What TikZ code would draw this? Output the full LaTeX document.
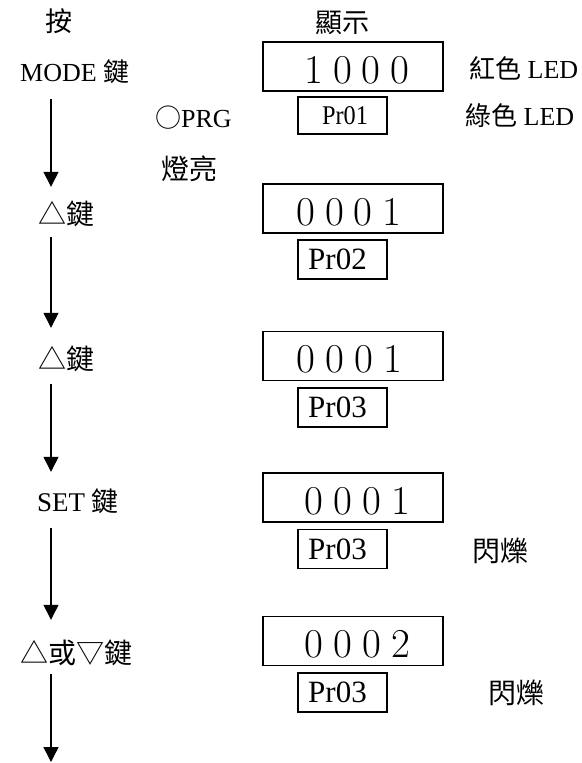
\documentclass[tikz,border=0pt]{standalone}
\usepackage{fontspec}
\usepackage{graphicx}
\setmainfont{Liberation Serif}
\newfontfamily\cjk{Noto Sans CJK TC}
\newfontfamily\digitfont{Latin Modern Roman}
\usetikzlibrary{arrows.meta}
\newcommand{\zhtext}[1]{{\cjk #1}}
\newcommand{\fsz}[1]{\fontsize{#1}{#1}\selectfont}
\newcommand{\dsp}{\hspace{10pt}}
\tikzset{
  lbl/.style={inner sep=0pt, anchor=base west},
  keylbl/.style={inner sep=0pt, anchor=base west, text height=20pt, text depth=6pt, font=\fsz{26}},
  dispbox/.style={draw, line width=1.3pt, minimum width=180pt, minimum height=49pt, inner sep=0pt, text height=33pt, text depth=0pt, font=\digitfont\fsz{41}},
  prbox/.style={draw, line width=1.3pt, minimum width=89pt, minimum height=39pt, inner sep=0pt, font=\fsz{31}},
  flow/.style={line width=1.4pt, -{Triangle[width=15pt,length=15pt]}},
}
\begin{document}
\begin{tikzpicture}[x=1pt,y=-1pt]
\fill[white] (0,0) rectangle (581,763);
\useasboundingbox (0,0) rectangle (581,763);
% headings
\node[lbl, font=\fsz{27}, anchor=base] (an) at (59,31) {\zhtext{按}};
\node[lbl, font=\fsz{27}, anchor=base] (xs) at (342,32) {\zhtext{顯示}};
% row 1
\node[keylbl] (modekey) at (20,81) {MODE \zhtext{鍵}};
\node[dispbox] (d1) at (353,66.5) {\hspace*{8pt}1\dsp0\dsp0\dsp0};
\node[lbl, font=\fsz{26}] (red) at (469,78) {\zhtext{紅色} LED};
\node[lbl, font=\fsz{26}] (prg) at (155,127) {\zhtext{○}PRG};
\node[prbox, minimum height=37pt, font=\fsz{27}] (p1) at (342.5,115.5) {\hspace*{5pt}\scalebox{0.9}[1]{Pr01}};
\node[lbl, font=\fsz{26}] (green) at (465,125) {\zhtext{綠色} LED};
\node[lbl, font=\fsz{28}] (lit) at (161,179) {\zhtext{燈亮}};
% row 2
\node[keylbl, font=\fsz{28}] (up1) at (38,224) {\zhtext{△鍵}};
\node[dispbox] (d2) at (353,208.5) {0\dsp0\dsp0\dsp1\hspace*{8pt}};
\node[prbox] (p2) at (342.5,259.5) {Pr02\hspace*{10pt}};
% row 3
\node[keylbl, font=\fsz{28}] (up2) at (38,369) {\zhtext{△鍵}};
\node[dispbox] (d3) at (353,356) {0\dsp0\dsp0\dsp1\hspace*{7pt}};
\node[prbox] (p3) at (342.5,407.5) {Pr03\hspace*{10pt}};
% row 4
\node[keylbl, font=\fsz{27}] (setkey) at (37,511) {SET \zhtext{鍵}};
\node[dispbox] (d4) at (353,497.5) {\hspace*{9pt}0\dsp0\dsp0\dsp1};
\node[prbox] (p4) at (342.5,549) {Pr03\hspace*{10pt}};
\node[lbl, font=\fsz{28}] (blink1) at (472,561) {\zhtext{閃爍}};
% row 5
\node[keylbl, font=\fsz{28}] (updown) at (20,663) {\zhtext{△或▽鍵}};
\node[dispbox] (d5) at (353,641) {\hspace*{9pt}0\dsp0\dsp0\dsp2};
\node[prbox] (p5) at (342.5,692.5) {Pr03\hspace*{10pt}};
\node[lbl, font=\fsz{28}] (blink2) at (488,703) {\zhtext{閃爍}};
% arrows
\coordinate (ax) at (51,0);
\coordinate (tail) at (51,762);
\draw[flow, shorten <=12pt, shorten >=17pt] (modekey.south -| ax) -- (up1.north -| ax);
\draw[flow, shorten <=7pt, shorten >=21pt] (up1.south -| ax) -- (up2.north -| ax);
\draw[flow, shorten <=9pt, shorten >=19pt] (up2.south -| ax) -- (setkey.north -| ax);
\draw[flow, shorten <=11pt, shorten >=23pt] (setkey.south -| ax) -- (updown.north -| ax);
\draw[flow, shorten <=5pt] (updown.south -| ax) -- (tail);
\end{tikzpicture}
\end{document}
